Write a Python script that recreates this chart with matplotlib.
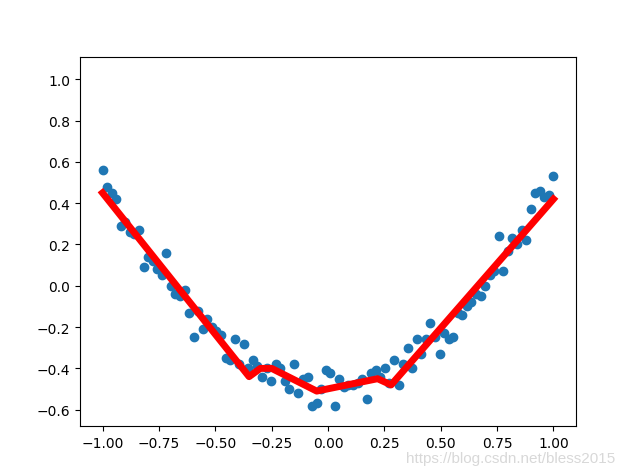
import numpy as np
import matplotlib
matplotlib.use("Agg")
import matplotlib.pyplot as plt

# noisy samples (x evenly spaced on [-1, 1])
y_data = [0.56, 0.48, 0.45, 0.42, 0.29, 0.31, 0.26, 0.25, 0.27, 0.09,
          0.14, 0.12, 0.08, 0.05, 0.16, 0.00, -0.04, -0.05, -0.02, -0.13,
          -0.25, -0.12, -0.21, -0.16, -0.20, -0.22, -0.24, -0.35, -0.36, -0.26,
          -0.38, -0.28, -0.40, -0.36, -0.39, -0.44, -0.40, -0.46, -0.38, -0.40,
          -0.46, -0.50, -0.38, -0.52, -0.45, -0.44, -0.58, -0.57, -0.50, -0.41,
          -0.42, -0.58, -0.45, -0.49, -0.48, -0.48, -0.47, -0.45, -0.55, -0.42,
          -0.41, -0.44, -0.40, -0.47, -0.36, -0.48, -0.38, -0.30, -0.40, -0.26,
          -0.33, -0.26, -0.18, -0.25, -0.33, -0.23, -0.26, -0.25, -0.13, -0.14,
          -0.10, -0.08, -0.04, -0.05, 0.00, 0.05, 0.07, 0.24, 0.07, 0.17,
          0.23, 0.20, 0.27, 0.22, 0.37, 0.45, 0.46, 0.43, 0.44, 0.53]
x_data = np.linspace(-1, 1, len(y_data))

# network prediction (piecewise linear)
x_pred = [-1.0, -0.35, -0.30, -0.25, -0.05, 0.22, 0.28, 1.0]
y_pred = [0.45, -0.44, -0.40, -0.40, -0.51, -0.45, -0.48, 0.42]

fig = plt.figure(figsize=(6.24, 4.77), dpi=100)
ax = fig.add_axes([80 / 624, 1 - 427.2 / 477, 496 / 624, 369.6 / 477])
ax.scatter(x_data, y_data)
ax.plot(x_pred, y_pred, 'r-', lw=5)
ax.set_ylim(-0.68, 1.11)
ax.set_xticks([-1.0, -0.75, -0.5, -0.25, 0.0, 0.25, 0.5, 0.75, 1.0])
ax.set_yticks([-0.6, -0.4, -0.2, 0.0, 0.2, 0.4, 0.6, 0.8, 1.0])

# csdn watermark
fig.text(615 / 624, 1 - 459 / 477, "https://blog.csdn.net/bless2015",
         ha='right', va='center', color='#d8d8d8', fontsize=11,
         family='Liberation Sans')

fig.savefig("out.png", dpi=100)
